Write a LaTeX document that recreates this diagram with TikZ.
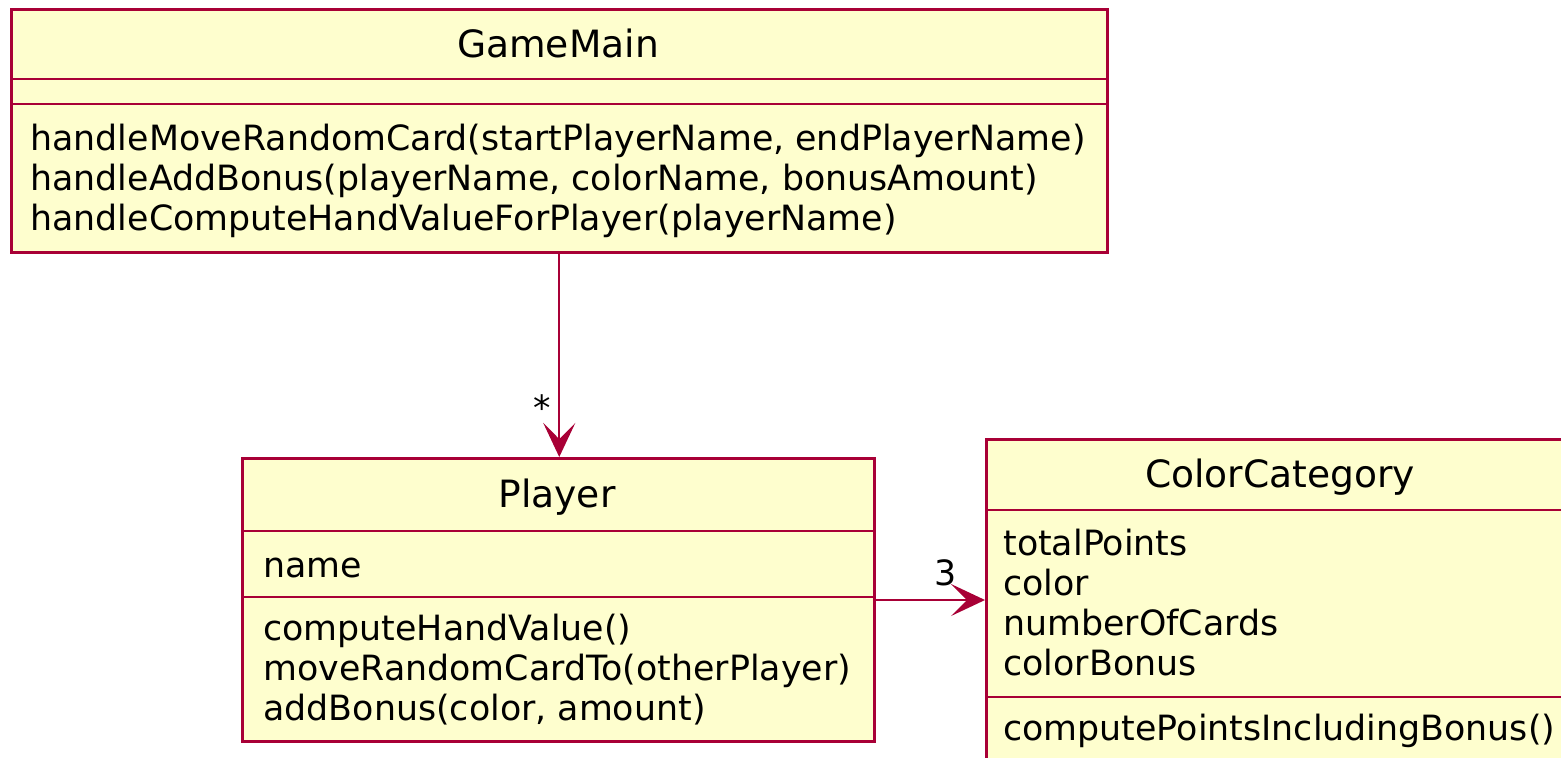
\documentclass[tikz,border=0pt]{standalone}
\usepackage{fontspec}
\setmainfont{DejaVu Sans}
\usetikzlibrary{arrows.meta}

\definecolor{umlfill}{HTML}{FEFECE}
\definecolor{umlline}{HTML}{A80036}

\tikzset{
  classbox/.style={draw=umlline, fill=umlfill, line width=1.25pt, anchor=north west, inner sep=0pt},
  sepline/.style={draw=umlline, line width=1.25pt},
  classname/.style={anchor=base, inner sep=0pt, font=\fontsize{18.8}{22}\selectfont},
  member/.style={anchor=base west, inner sep=0pt, font=\fontsize{17.4}{20}\selectfont},
  mult/.style={anchor=base, inner sep=0pt, font=\fontsize{17.4}{20}\selectfont},
  assoc/.style={draw=umlline, line width=1pt, -{Stealth[length=17pt,width=16pt,inset=8pt]}}
}

\begin{document}
\begin{tikzpicture}[x=0.5pt,y=-0.5pt]
\useasboundingbox (0,0) rectangle (1561,757);
\clip (0,0) rectangle (1561,757);
\fill[white] (0,0) rectangle (1561,757);

% GameMain
\node[classbox, minimum width=548pt, minimum height=121.5pt] (GM) at (10,8) {};
\draw[sepline] (GM.west |- 0,79) -- (GM.east |- 0,79);
\draw[sepline] (GM.west |- 0,104) -- (GM.east |- 0,104);
\node[classname] (GMname) at (558,57) {GameMain};
\node[member] (GMop1) at (30,150) {handleMoveRandomCard(startPlayerName, endPlayerName)};
\node[member] (GMop2) at (30,190) {handleAddBonus(playerName, colorName, bonusAmount)};
\node[member] (GMop3) at (30,230) {handleComputeHandValueForPlayer(playerName)};

% Player
\node[classbox, minimum width=316pt, minimum height=141.5pt] (P) at (241,457) {};
\draw[sepline] (P.west |- 0,531) -- (P.east |- 0,531);
\draw[sepline] (P.west |- 0,597) -- (P.east |- 0,597);
\node[classname] (Pname) at (557,507) {Player};
\node[member] (Pattr1) at (263,577) {name};
\node[member] (Pop1) at (263,640) {computeHandValue()};
\node[member] (Pop2) at (263,680) {moveRandomCardTo(otherPlayer)};
\node[member] (Pop3) at (263,720) {addBonus(color, amount)};

% ColorCategory (runs past the right and bottom edges)
\node[classbox, minimum width=295pt, minimum height=162.5pt] (CC) at (985,438) {};
\draw[sepline] (CC.west |- 0,510) -- (CC.east |- 0,510);
\draw[sepline] (CC.west |- 0,697) -- (CC.east |- 0,697);
\node[classname] (CCname) at (1280,487) {ColorCategory};
\node[member] (CCattr1) at (1003,555) {totalPoints};
\node[member] (CCattr2) at (1003,595) {color};
\node[member] (CCattr3) at (1003,635) {numberOfCards};
\node[member] (CCattr4) at (1003,675) {colorBonus};
\node[member] (CCop1) at (1003,740) {computePointsIncludingBonus()};

% associations
\coordinate (PCC) at (873,600);
\draw[assoc] (GM.south) -- (GM.south |- P.north);
\node[mult] (GMmult) at (542,420) {*};
\draw[assoc] (PCC) -- (CC.west |- PCC);
\node[mult] (PCCmult) at (946,585) {3};
\end{tikzpicture}
\end{document}
